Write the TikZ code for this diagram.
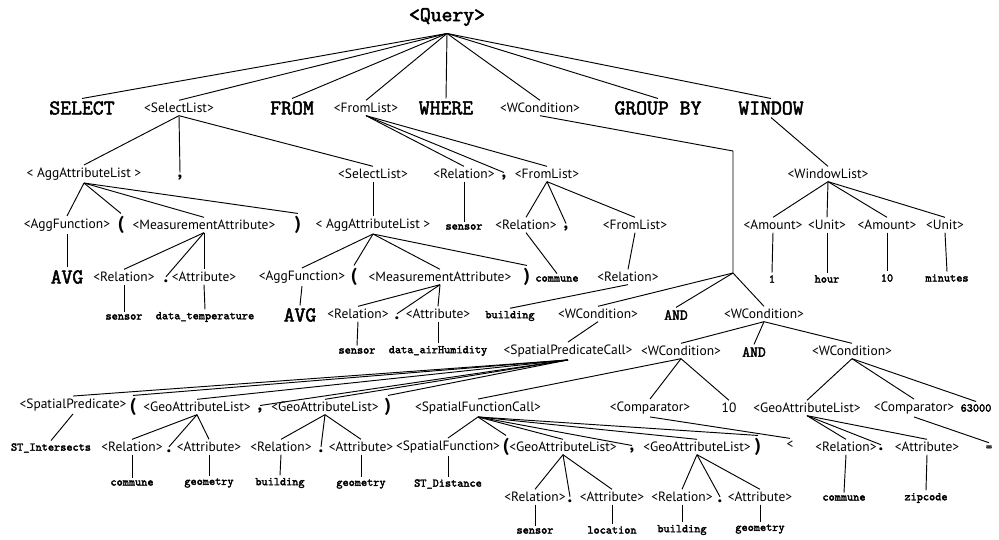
\documentclass[tikz,border=0pt]{standalone}
\usepackage{fontspec}
\setmainfont{PT Sans}
\newfontfamily\monob{Latin Modern Mono}[FakeBold=2.5]

\begin{document}
\begin{tikzpicture}[x=0.3mm, y=-0.3mm, line width=0.8pt,
  every node/.style={inner sep=2pt},
  nt/.style={font=\fontsize{11.5}{13}\selectfont},
  kw/.style={font=\monob\fontsize{18}{20}\selectfont},
  kwand/.style={font=\monob\fontsize{13}{15}\selectfont},
  tm/.style={font=\monob\fontsize{10}{12}\selectfont},
  pn/.style={font=\fontsize{16}{18}\selectfont\bfseries}]
\useasboundingbox (0,0) rectangle (999,540);
% Draw row 1 and 2
\node[kw, inner ysep=6pt] (query) at (447,17) {<Query>};
\node[kw] (kwsel) at (82,108) {SELECT};
\node[nt] (sl) at (179,108) {<SelectList>};
\node[kw] (kwfrom) at (292,108) {FROM};
\node[nt] (fl) at (366,108) {<FromList>};
\node[kw] (kwwhere) at (446,108) {WHERE};
\node[nt] (wc) at (540,108) {<WCondition>};
\node[kw] (kwgroup) at (658,108) {GROUP BY};
\node[kw] (kwwin) at (771,108) {WINDOW};
% Draw row 3
\node[nt] (aal) at (84,174) {< AggAttributeList >};
\node[pn] (slc) at (180,178) {,};
\node[nt] (sl2) at (373,174) {<SelectList>};
\node[nt] (rel1) at (464,174) {<Relation>};
\node[pn] (flc) at (504,178) {,};
\node[nt] (fl2) at (547,174) {<FromList>};
\node[nt] (wl) at (828,174) {<WindowList>};
% Draw row 4
\node[nt] (af1) at (67,225) {<AggFunction>};
\node[pn] (lp1) at (121,225) {(};
\node[nt] (ma1) at (204,225) {<MeasurementAttribute>};
\node[pn] (rp1) at (298,225) {)};
\node[nt] (aal2) at (373,225) {< AggAttributeList >};
\node[tm] (tsensor1) at (464,227) {sensor};
\node[nt] (rel2) at (526,225) {<Relation>};
\node[pn] (flc2) at (566,229) {,};
\node[nt] (fl3) at (635,225) {<FromList>};
\node[nt] (am1) at (773,225) {<Amount>};
\node[nt] (un1) at (827,225) {<Unit>};
\node[nt] (am2) at (887,225) {<Amount>};
\node[nt] (un2) at (945,225) {<Unit>};
% Draw row 5
\node[kw] (avg1) at (67,277) {AVG};
\node[nt] (rel3) at (124,277) {<Relation>};
\node[pn] (dot1) at (166,281) {.};
\node[nt] (att1) at (204,277) {<Attribute>};
\node[nt] (af2) at (302,277) {<AggFunction>};
\node[pn] (lp2) at (354,277) {(};
\node[nt] (ma2) at (440,277) {<MeasurementAttribute>};
\node[pn] (rp2) at (527,277) {)};
\node[tm] (tcom1) at (557,279) {commune};
\node[nt] (rel4) at (628,277) {<Relation>};
\node[tm] (v1) at (772,279) {1};
\node[tm] (vhour) at (827,279) {hour};
\node[tm] (v10) at (887,278) {10};
\node[tm] (vmin) at (947,278) {minutes};
% Draw row 6
\node[tm] (tsensor2) at (124,317) {sensor};
\node[tm] (ttemp) at (205,317) {data\_temperature};
\node[kw] (avg2) at (300,315) {AVG};
\node[nt] (rel5) at (358,314) {<Relation>};
\node[pn] (dot2) at (397,318) {.};
\node[nt] (att2) at (438,314) {<Attribute>};
\node[tm] (tbuild1) at (510,316) {building};
\node[nt] (wc2) at (598,314) {<WCondition>};
\node[kwand] (and1) at (676,315) {AND};
\node[nt] (wc3) at (764,314) {<WCondition>};
% Draw row 7
\node[tm] (tsensor3) at (357,351) {sensor};
\node[tm] (thum) at (438,351) {data\_airHumidity};
\node[nt] (spc) at (568,351) {<SpatialPredicateCall>};
\node[nt] (wc4) at (681,351) {<WCondition>};
\node[kwand] (and2) at (754,352) {AND};
\node[nt] (wc5) at (852,351) {<WCondition>};
% Draw row 8
\node[nt] (sp) at (73,405) {<SpatialPredicate>};
\node[pn] (lp3) at (133,407) {(};
\node[nt] (gal1) at (197,407) {<GeoAttributeList>};
\node[pn] (c4) at (260,411) {,};
\node[nt] (gal2) at (325,407) {<GeoAttributeList>};
\node[pn] (rp3) at (388,407) {)};
\node[nt] (sfc) at (478,408) {<SpatialFunctionCall>};
\node[nt] (cmp1) at (650,408) {<Comparator>};
\node[nt] (n10) at (729,408) {10};
\node[nt] (gal3) at (807,408) {<GeoAttributeList>};
\node[nt] (cmp2) at (914,408) {<Comparator>};
\node[tm] (n63) at (976,408) {63000};
% Draw row 9
\node[tm] (tstint) at (51,448) {ST\_Intersects};
\node[nt] (rel6) at (132,447) {<Relation>};
\node[pn] (dot3) at (169,451) {.};
\node[nt] (att3) at (209,447) {<Attribute>};
\node[nt] (rel7) at (281,447) {<Relation>};
\node[pn] (dot4) at (321,451) {.};
\node[nt] (att4) at (361,447) {<Attribute>};
\node[nt] (sf) at (448,447) {<SpatialFunction>};
\node[pn] (lp4) at (506,447) {(};
\node[nt] (gal4) at (563,447) {<GeoAttributeList>};
\node[pn] (c5) at (632,451) {,};
\node[nt] (gal5) at (697,447) {<GeoAttributeList>};
\node[pn] (rp4) at (758,447) {)};
\node[nt] (lt) at (790,445) {<};
\node[nt] (rel8) at (846,447) {<Relation>};
\node[pn] (dot5) at (881,449) {.};
\node[nt] (att5) at (927,447) {<Attribute>};
\node[tm] (eq) at (989,448) {=};
% Draw row 10 and 11
\node[tm] (tcom2) at (132,483) {commune};
\node[tm] (tgeo1) at (209,483) {geometry};
\node[tm] (tbuild2) at (280,483) {building};
\node[tm] (tgeo2) at (361,484) {geometry};
\node[tm] (tstdist) at (448,484) {ST\_Distance};
\node[nt] (rel9) at (535,497) {<Relation>};
\node[pn] (dot6) at (570,501) {.};
\node[nt] (att6) at (612,497) {<Attribute>};
\node[nt] (rel10) at (682,497) {<Relation>};
\node[pn] (dot7) at (720,501) {.};
\node[nt] (att7) at (760,497) {<Attribute>};
\node[tm] (tcom3) at (844,498) {commune};
\node[tm] (tzip) at (926,498) {zipcode};
\node[tm] (tsensor4) at (535,531) {sensor};
\node[tm] (tloc) at (612,530) {location};
\node[tm] (tbuild3) at (682,530) {building};
\node[tm] (tgeo3) at (760,529) {geometry};
\coordinate (bend) at (733,151);
\coordinate (fork) at (733,273);
% Draw edges
\foreach \c in {kwsel,sl,kwfrom,fl,kwwhere,wc,kwgroup,kwwin}
    \draw (query.south) -- (\c.north);
\foreach \c in {aal,slc,sl2}
    \draw (sl.south) -- (\c.north);
\foreach \c in {rel1,flc,fl2}
    \draw (fl.south) -- (\c.north);
\draw (wc.south) -- (bend) -- (fork);
\foreach \c in {wc2,and1,wc3}
    \draw (fork) -- (\c.north);
\draw (kwwin.south) -- (wl.north);
\foreach \c in {af1,lp1,ma1,rp1}
    \draw (aal.south) -- (\c.north);
\draw (sl2.south) -- (aal2.north);
\draw (rel1.south) -- (tsensor1.north);
\foreach \c in {rel2,flc2,fl3}
    \draw (fl2.south) -- (\c.north);
\foreach \c in {am1,un1,am2,un2}
    \draw (wl.south) -- (\c.north);
\foreach \a/\b in {am1/v1,un1/vhour,am2/v10,un2/vmin}
    \draw (\a.south) -- (\b.north);
\draw (af1.south) -- (avg1.north);
\foreach \c in {rel3,dot1,att1}
    \draw (ma1.south) -- (\c.north);
\draw (rel3.south) -- (tsensor2.north);
\draw (att1.south) -- (ttemp.north);
\foreach \c in {af2,lp2,ma2,rp2}
    \draw (aal2.south) -- (\c.north);
\draw (rel2.south) -- (tcom1.north);
\draw (fl3.south) -- (rel4.north);
\draw (rel4.south) -- (tbuild1.north);
\draw (af2.south) -- (avg2.north);
\foreach \c in {rel5,dot2,att2}
    \draw (ma2.south) -- (\c.north);
\draw (rel5.south) -- (tsensor3.north);
\draw (att2.south) -- (thum.north);
\draw (wc2.south) -- (spc.north);
\foreach \c in {wc4,and2,wc5}
    \draw (wc3.south) -- (\c.north);
\foreach \c in {sp,lp3,gal1,c4,gal2,rp3}
    \draw (spc.south) -- (\c.north);
\foreach \c in {sfc,cmp1,n10}
    \draw (wc4.south) -- (\c.north);
\foreach \c in {gal3,cmp2,n63}
    \draw (wc5.south) -- (\c.north);
\draw (sp.south) -- (tstint.north);
\foreach \c in {rel6,dot3,att3}
    \draw (gal1.south) -- (\c.north);
\foreach \c in {rel7,dot4,att4}
    \draw (gal2.south) -- (\c.north);
\foreach \c in {sf,lp4,gal4,c5,gal5,rp4}
    \draw (sfc.south) -- (\c.north);
\draw (cmp1.south) -- (lt.north);
\foreach \c in {rel8,dot5,att5}
    \draw (gal3.south) -- (\c.north);
\draw (cmp2.south) -- (eq.north);
\foreach \a/\b in {rel6/tcom2,att3/tgeo1,rel7/tbuild2,att4/tgeo2,sf/tstdist}
    \draw (\a.south) -- (\b.north);
\foreach \c in {rel9,dot6,att6}
    \draw (gal4.south) -- (\c.north);
\foreach \c in {rel10,dot7,att7}
    \draw (gal5.south) -- (\c.north);
\foreach \a/\b in {rel8/tcom3,att5/tzip,rel9/tsensor4,att6/tloc,rel10/tbuild3,att7/tgeo3}
    \draw (\a.south) -- (\b.north);
\end{tikzpicture}
\end{document}
